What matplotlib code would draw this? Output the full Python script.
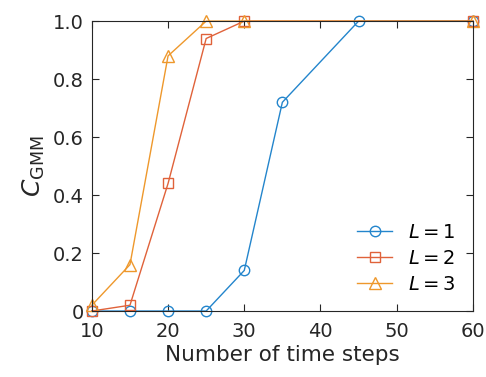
import matplotlib.pyplot as plt

plt.rcParams['font.family'] = ['DejaVu Sans']
plt.rcParams['mathtext.fontset'] = 'dejavusans'

steps_1 = [10, 15, 20, 25, 30, 35, 45, 60]
cgmm_1 = [0, 0, 0, 0, 0.14, 0.72, 1.0, 1.0]
steps_2 = [10, 15, 20, 25, 30, 60]
cgmm_2 = [0, 0.02, 0.44, 0.94, 1.0, 1.0]
steps_3 = [10, 15, 20, 25, 30, 60]
cgmm_3 = [0.02, 0.16, 0.88, 1.0, 1.0, 1.0]

fig = plt.figure(figsize=(4.86, 3.77), dpi=100)
ax = fig.add_axes([0.189, 0.175, 0.784, 0.769])

ax.plot(steps_1, cgmm_1, '-o', color='#2385cc', lw=1, ms=7.5, mfc='none', mew=1, label='$L=1$', clip_on=False)
ax.plot(steps_2, cgmm_2, '-s', color='#e0623a', lw=1, ms=6.5, mfc='none', mew=1, label='$L=2$', clip_on=False)
ax.plot(steps_3, cgmm_3, '-^', color='#ee982c', lw=1, ms=8, mfc='none', mew=1, label='$L=3$', clip_on=False)

ax.set_xlim(10, 60)
ax.set_ylim(0, 1)
ax.set_xticks([10, 20, 30, 40, 50, 60])
ax.set_yticks([0, 0.2, 0.4, 0.6, 0.8, 1.0])
ax.set_yticklabels(['0', '0.2', '0.4', '0.6', '0.8', '1.0'])
ax.tick_params(direction='in', top=True, right=True, length=5, labelsize=14,
               colors='#262626', pad=6)
ax.tick_params(axis='x', pad=8)
for s in ax.spines.values():
    s.set_color('#262626')
    s.set_linewidth(0.8)

ax.set_xlabel('Number of time steps', fontsize=15.5, color='#262626', labelpad=3)
ax.set_ylabel('$C_{\\mathrm{GMM}}$', fontsize=18, color='#262626', labelpad=4)
ax.legend(loc='lower right', frameon=False, fontsize=14, handlelength=1.8,
          labelspacing=0.35, borderaxespad=0.5)

fig.savefig('out.png', dpi=100)
